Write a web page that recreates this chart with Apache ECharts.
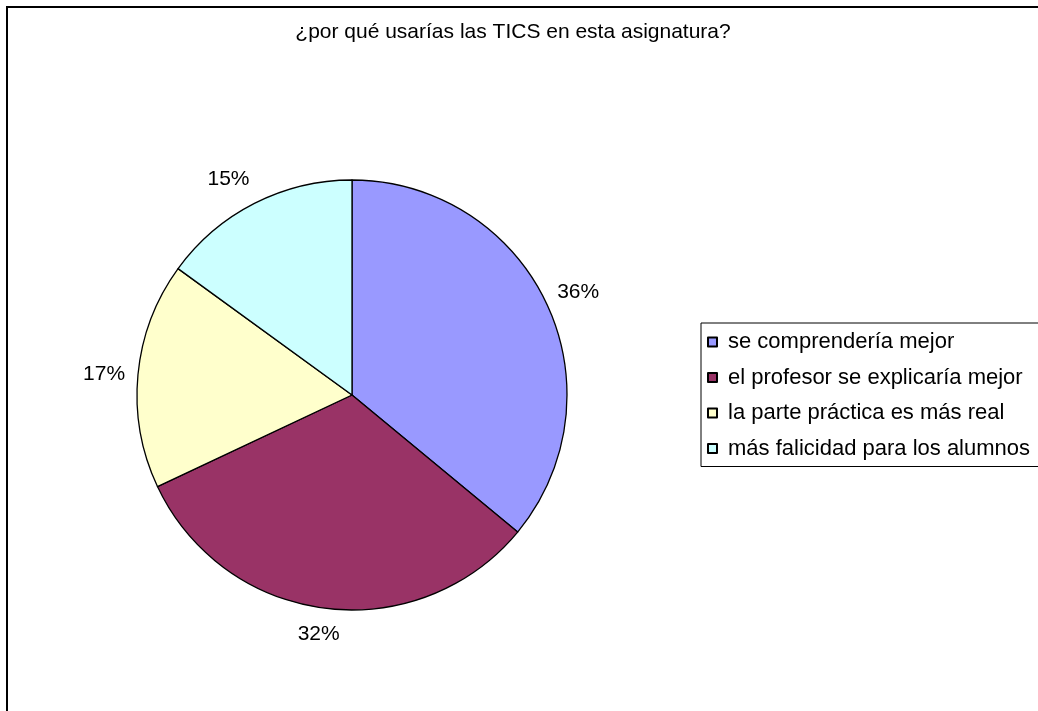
<!DOCTYPE html>
<html>
<head>
<meta charset="utf-8">
<script src="https://cdn.jsdelivr.net/npm/echarts@6/dist/echarts.min.js"></script>
<style>
html,body{margin:0;padding:0;background:#fff;}
#chart{width:1038px;height:711px;}
</style>
</head>
<body>
<div id="chart"></div>
<script>
const titleText = '¿por qué usarías las TICS en esta asignatura?';
const categories = ['se comprendería mejor', 'el profesor se explicaría mejor', 'la parte práctica es más real', 'más falicidad para los alumnos'];
const values = [36, 32, 17, 15];
const colors = ['#9999FF', '#993366', '#FFFFCC', '#CCFFFF'];

const FONT = '"Liberation Sans", Arial, sans-serif';
const CENTER = [352, 395];
const labelOffsets = [[0, 4], [-2, -9], [1, 3], [-10, 7]];

const chart = echarts.init(document.getElementById('chart'), null, {renderer: 'canvas'});

const option = {
  animation: false,
  backgroundColor: '#ffffff',
  title: {
    text: titleText,
    left: 513,
    top: 22,
    padding: 0,
    textAlign: 'center',
    textStyle: {fontFamily: FONT, fontSize: 21, fontWeight: 'normal', color: '#000'}
  },
  graphic: [{
    type: 'rect',
    shape: {x: 7, y: 7, width: 1200, height: 900},
    style: {fill: 'none', stroke: '#000', lineWidth: 2},
    silent: true
  }],
  legend: {
    orient: 'vertical',
    left: 701,
    top: 323,
    data: categories,
    backgroundColor: '#fff',
    borderColor: '#000',
    borderWidth: 1,
    borderRadius: 0,
    padding: [8, 20, 7, 6],
    itemWidth: 9,
    itemHeight: 9,
    itemGap: 13.5,
    icon: 'rect',
    selectedMode: false,
    textStyle: {fontFamily: FONT, fontSize: 22, color: '#000', lineHeight: 22, padding: [0, 0, 0, 6]}
  },
  series: [
    {
      type: 'pie',
      center: CENTER,
      radius: 215,
      startAngle: 90,
      clockwise: true,
      silent: true,
      label: {show: false},
      labelLine: {show: false},
      emphasis: {disabled: true},
      itemStyle: {borderColor: '#000', borderWidth: 1.3},
      data: categories.map((c, i) => ({name: c, value: values[i], itemStyle: {color: colors[i]}}))
    },
    {
      type: 'pie',
      center: CENTER,
      radius: [237, 257],
      startAngle: 90,
      clockwise: true,
      silent: true,
      emphasis: {disabled: true},
      labelLine: {show: false},
      itemStyle: {color: 'rgba(0,0,0,0)', borderWidth: 0},
      label: {
        show: true,
        position: 'inside',
        formatter: '{d}%',
        fontFamily: FONT,
        fontSize: 21,
        color: '#000'
      },
      data: categories.map((c, i) => ({
        name: c, value: values[i],
        label: {offset: labelOffsets[i]}
      }))
    }
  ]
};
chart.setOption(option);
</script>
</body>
</html>
